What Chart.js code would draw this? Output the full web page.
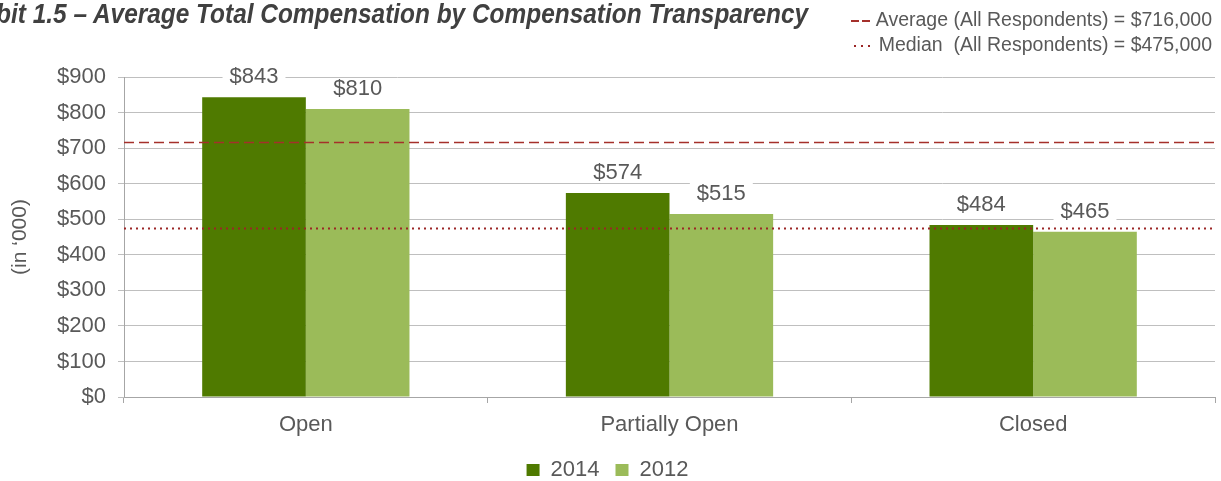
<!DOCTYPE html>
<html>
<head>
<meta charset="utf-8">
<script src="https://cdn.jsdelivr.net/npm/chart.js@4/dist/chart.umd.min.js"></script>
<style>
  html, body { margin: 0; padding: 0; background: #fff; overflow: hidden; }
  #wrap { position: relative; width: 1221px; height: 481px; overflow: hidden; }
  #graph { position: absolute; left: 0; top: 0; }
  .ttl {
    position: absolute; right: 413px; top: -2px; white-space: nowrap;
    font-family: "Liberation Sans", Arial, sans-serif;
    font-weight: bold; font-style: italic; font-size: 28px; color: #404040;
    transform-origin: right top;
  }
  #refs {
    position: absolute; right: 9px; top: 7px; text-align: right;
    font-family: "Liberation Sans", Arial, sans-serif; font-size: 19.5px; color: #595959;
    line-height: 25px;
  }
  .sym { display: inline-block; width: 19px; margin-right: 6px; vertical-align: middle; }
  .avg { height: 1.5px; background: repeating-linear-gradient(to right, #a5302b 0 8px, transparent 8px 11px); }
  .med { height: 2px; background: repeating-linear-gradient(to right, #9b2626 0 2px, transparent 2px 7px); }
</style>
</head>
<body>
<div id="wrap">
  <canvas id="graph" width="1221" height="491"></canvas>
  <div id="title" class="ttl">Exhibit 1.5 – Average Total Compensation by Compensation Transparency</div>
  <div id="refs">
    <div><span class="sym avg"></span>Average (All Respondents) = $716,000</div>
    <div><span class="sym med"></span>Median&nbsp; (All Respondents) = $475,000</div>
  </div>
</div>
<script>
const categories = ['Open', 'Partially Open', 'Closed'];
const values2014 = [843, 574, 484];
const values2012 = [810, 515, 465];
const averageAll = 716; // in '000
const medianAll = 475;
const yTicks = [0, 100, 200, 300, 400, 500, 600, 700, 800, 900];

const DARK = '#4f7a00';
const LIGHT = '#9bbb59';
const RED = '#a5302b';
const RED_DARK = '#9b2626';
const TEXT = '#595959';
const FONT = '"Liberation Sans", Arial, sans-serif';

// squeeze the title so it looks like the condensed face of the original
// (the original is cut at the left edge, only "bit 1.5 ..." shows)
(function () {
    const t = document.getElementById('title');
    const probe = document.createElement('div');
    probe.className = 'ttl';
    probe.style.visibility = 'hidden';
    probe.textContent = 'bit 1.5 – Average Total Compensation by Compensation Transparency';
    document.getElementById('wrap').appendChild(probe);
    const w = probe.getBoundingClientRect().width;
    probe.remove();
    t.style.transform = 'scaleX(' + (812 / w) + ')';
})();

// average / median reference lines across the whole plot area
const refLines = {
    id: 'refLines',
    afterDatasetsDraw(chart) {
        const {ctx, chartArea, scales} = chart;
        const lines = [
            { v: averageAll, color: RED, dash: [10, 5], width: 1.5 },
            { v: medianAll, color: RED_DARK, dash: [2, 4], width: 2 },
        ];
        ctx.save();
        lines.forEach((l) => {
            const y = Math.round(scales.y.getPixelForValue(l.v)) + 0.5;
            ctx.strokeStyle = l.color;
            ctx.lineWidth = l.width;
            ctx.setLineDash(l.dash);
            ctx.beginPath();
            ctx.moveTo(chartArea.left, y);
            ctx.lineTo(chartArea.right, y);
            ctx.stroke();
        });
        ctx.restore();
    }
};

// value labels with a white box behind them (they cut the gridlines)
const barLabels = {
    id: 'barLabels',
    afterDatasetsDraw(chart) {
        const ctx = chart.ctx;
        ctx.save();
        ctx.font = '22px ' + FONT;
        ctx.textAlign = 'center';
        ctx.textBaseline = 'middle';
        chart.data.datasets.forEach((ds, i) => {
            chart.getDatasetMeta(i).data.forEach((bar, j) => {
                const txt = '$' + ds.data[j];
                const w = ctx.measureText(txt).width;
                const y = bar.y - 21;
                ctx.fillStyle = '#fff';
                ctx.fillRect(bar.x - w / 2 - 7, y - 10, w + 14, 20);
                ctx.fillStyle = TEXT;
                ctx.fillText(txt, bar.x, y + 1);
            });
        });
        ctx.restore();
    }
};

const chart = new Chart(document.getElementById('graph'), {
    type: 'bar',
    data: {
        labels: categories,
        datasets: [
            {
                label: '2014', data: values2014,
                backgroundColor: DARK, categoryPercentage: 0.57, barPercentage: 1,
            },
            {
                label: '2012', data: values2012,
                backgroundColor: LIGHT, categoryPercentage: 0.57, barPercentage: 1,
            },
        ]
    },
    options: {
        responsive: false,
        animation: false,
        events: [],
        layout: { padding: { top: 77, right: 6, left: 0, bottom: 0 } },
        scales: {
            x: {
                offset: true,
                afterFit: (s) => { s.height = 46; },
                grid: { offset: true, drawOnChartArea: false, tickLength: 6, color: '#a6a6a6' },
                border: { color: '#a6a6a6' },
                ticks: { color: TEXT, font: { family: FONT, size: 22 }, padding: 9 },
            },
            y: {
                min: 0, max: 900,
                afterBuildTicks: (s) => { s.ticks = yTicks.map(v => ({ value: v })); },
                afterFit: (s) => { s.width = 124; },
                grid: { color: '#bfbfbf', tickLength: 6 },
                border: { color: '#a6a6a6' },
                ticks: {
                    color: TEXT, font: { family: FONT, size: 22 }, padding: 12,
                    callback: (v) => '$' + v,
                },
                title: {
                    display: true, text: '(in ‘000)', color: TEXT,
                    font: { family: FONT, size: 21 }, padding: { top: 8, bottom: 0 },
                },
            }
        },
        plugins: {
            legend: {
                position: 'bottom',
                labels: {
                    boxWidth: 13, boxHeight: 12, color: TEXT,
                    font: { family: FONT, size: 22 }, padding: 16,
                },
            },
            tooltip: { enabled: false },
        }
    },
    plugins: [refLines, barLabels]
});
</script>
</body>
</html>
